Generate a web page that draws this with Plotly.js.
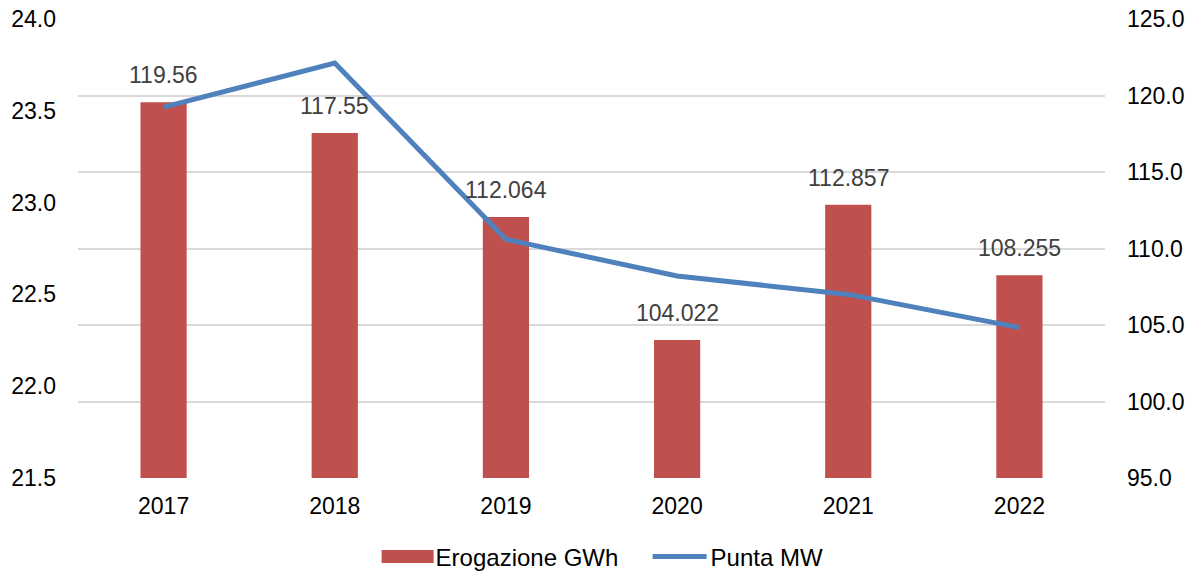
<!DOCTYPE html>
<html>
<head>
<meta charset="utf-8">
<script src="https://cdn.plot.ly/plotly-3.0.1.min.js"></script>
<style>html,body{margin:0;padding:0;background:#fff;}#chart{width:1195px;height:573px;}</style>
</head>
<body>
<div id="chart"></div>
<script>
const years = ['2017', '2018', '2019', '2020', '2021', '2022'];
const erogazioneGWh = [119.56, 117.55, 112.064, 104.022, 112.857, 108.255];
const erogazioneLabels = ['119.56', '117.55', '112.064', '104.022', '112.857', '108.255'];
const puntaMW = [23.52, 23.76, 22.80, 22.60, 22.50, 22.32];
const leftTicks = [21.5, 22.0, 22.5, 23.0, 23.5, 24.0];
const rightTicks = [95, 100, 105, 110, 115, 120, 125];

const font = 'Liberation Sans, Arial, sans-serif';
const fs = 23;

const traces = [
  {
    type: 'bar', name: 'Erogazione GWh', x: years, y: erogazioneGWh,
    yaxis: 'y', width: 0.27,
    marker: {color: '#C0504D'},
    hoverinfo: 'x+y'
  },
  {
    type: 'scatter', mode: 'lines', name: 'Punta MW', x: years, y: puntaMW,
    yaxis: 'y2',
    line: {color: '#4F81BD', width: 5}
  }
];

const annotations = years.map((yr, i) => ({
  x: i, y: erogazioneGWh[i], xref: 'x', yref: 'y',
  text: erogazioneLabels[i], showarrow: false,
  xanchor: 'center', yanchor: 'bottom', yshift: 12,
  font: {family: font, size: fs, color: '#404040'}
}));

const layout = {
  width: 1195, height: 573,
  margin: {l: 78, r: 90, t: 19, b: 95},
  paper_bgcolor: '#fff', plot_bgcolor: '#fff',
  font: {family: font, size: fs, color: '#000'},
  showlegend: true,
  legend: {orientation: 'h', x: 0.5595, xanchor: 'center', xref: 'paper',
           y: 0.028, yanchor: 'middle', yref: 'container',
           font: {family: font, size: 24, color: '#000'}, traceorder: 'normal',
           itemwidth: 48, entrywidth: 212},
  xaxis: {type: 'category', categoryorder: 'array', categoryarray: years,
          range: [-0.5, years.length - 0.5],
          showgrid: false, zeroline: false, showline: false,
          ticks: '', ticklabelstandoff: 12, tickfont: {size: fs}},
  yaxis: {side: 'right', range: [95, 125], tickvals: rightTicks,
          ticktext: rightTicks.map(v => v.toFixed(1)),
          showgrid: true, gridcolor: '#d9d9d9', gridwidth: 2,
          zeroline: false, showline: false, ticks: '', ticklabelstandoff: 21,
          tickfont: {size: fs}},
  yaxis2: {side: 'left', overlaying: 'y', range: [21.5, 24.0], tickvals: leftTicks,
           ticktext: leftTicks.map(v => v.toFixed(1)),
           showgrid: false, zeroline: false, showline: false, ticks: '', ticklabelstandoff: 21,
           tickfont: {size: fs}},
  annotations: annotations,
  bargap: 0.73
};

Plotly.newPlot('chart', traces, layout, {displayModeBar: false, staticPlot: true}).then(gd => {
  // widen the legend symbols to look like the reference's swatches
  const items = gd.querySelectorAll('.legend .traces');
  items.forEach((it, idx) => {
    if (idx === 0) {
      it.querySelectorAll('.legendpoints path').forEach(p => {
        p.setAttribute('d', 'M-26,-6.5H26V6.5H-26Z');
        p.setAttribute('transform', 'translate(30,0)');
      });
    } else {
      it.querySelectorAll('.legendlines path').forEach(p => {
        p.setAttribute('d', 'M0,0h54');
      });
    }
  });
});
</script>
</body>
</html>
